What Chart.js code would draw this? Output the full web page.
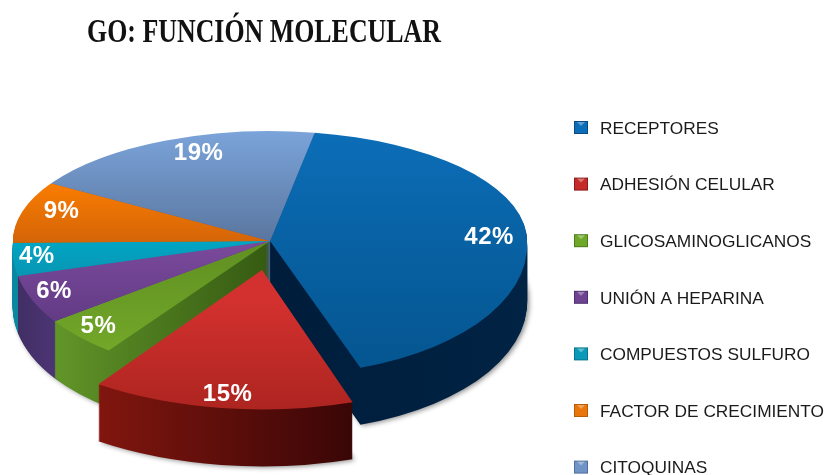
<!DOCTYPE html>
<html lang="es">
<head>
    <meta charset="UTF-8">
    <title>GO: Función Molecular</title>
    <script src="https://cdn.jsdelivr.net/npm/chart.js"></script>
    <style>
        html, body { margin: 0; padding: 0; background: #fff; overflow: hidden; }
        canvas { display: block; }
    </style>
</head>
<body>
    <canvas id="pieChart" width="825" height="475"></canvas>

    <script>
        const chartTitle = "GO: FUNCIÓN MOLECULAR";
        const categories = ["RECEPTORES", "ADHESIÓN CELULAR", "GLICOSAMINOGLICANOS", "UNIÓN A HEPARINA", "COMPUESTOS SULFURO", "FACTOR DE CRECIMIENTO", "CITOQUINAS"];
        const percentages = [42, 15, 5, 6, 4, 9, 19];

        // Pie geometry: a flat pie squashed differently above and below its centre
        const CX = 270, CY = 241, RADIUS = 257;
        const SCALE_TOP = 0.428, SCALE_BOTTOM = 0.521;
        const DEPTH = 57;
        const EXPLODE = [0, 224, 0, 0, 0, 0, 0]; // chart.js moves a slice by offset / 4

        // fake perspective on the near side
        const NEAR_SHEAR = [-0.06, 0, 0.12, 0.12, 0.12, 0, 0];
        const NEAR_WIDEN = [1, 1.07, 1, 1, 1, 1, 1];

        const canvas = document.getElementById("pieChart");
        const ctx = canvas.getContext("2d");

        function vGrad(y0, y1, a, b) {
            const g = ctx.createLinearGradient(0, y0, 0, y1);
            g.addColorStop(0, a);
            g.addColorStop(1, b);
            return g;
        }
        function hGrad(x0, x1, a, b) {
            const g = ctx.createLinearGradient(x0, 0, x1, 0);
            g.addColorStop(0, a);
            g.addColorStop(1, b);
            return g;
        }

        // top faces (gradients are in the flat, unsquashed space)
        const faceColors = [
            vGrad(CY - RADIUS, CY + RADIUS, "#0c6eb8", "#04558f"),
            vGrad(CY + 56, CY + 56 + 270, "#d3312f", "#a3211c"),
            vGrad(CY, CY + RADIUS, "#5f8f22", "#77ad2a"),
            vGrad(CY, CY + RADIUS * 0.6, "#7b4a9c", "#623b85"),
            vGrad(CY - 20, CY + 100, "#00a9c9", "#0a8fab"),
            vGrad(CY - RADIUS * 0.6, CY, "#ff8000", "#d56508"),
            vGrad(CY - RADIUS, CY, "#7ba4da", "#5a769f")
        ];
        // side walls
        const wallColors = [
            hGrad(270, 527, "#001d3b", "#012344"),
            hGrad(98, 353, "#86170f", "#3a0606"),
            hGrad(53, 270, "#64992a", "#355a12"),
            hGrad(15, 110, "#3f2d62", "#5a3c84"),
            "#0b88a1",
            "#b85c00",
            "#4b6389"
        ];
        const legendColors = ["#0c6eb8", "#c52b28", "#6fa828", "#6f4391", "#0a9ab8", "#e8760a", "#6f94c6"];
        const legendEdges = ["#0a4a80", "#8a1d1a", "#4d7d1c", "#4b2f6c", "#08758c", "#b85c08", "#4f6f9c"];

        // where each percent label sits: share of the radius, and degrees past the slice middle
        const labelRadius = [0.853, 0.94, 0.925, 0.92, 0.915, 0.855, 0.845];
        const labelTurn = [2.4, 0, 2, 2, 0.7, 3, 5];

        function drawArcAt(c, el, i, dy, fill) {
            [[SCALE_TOP, -1], [SCALE_BOTTOM, 1]].forEach(([s, side]) => {
                c.save();
                c.beginPath();
                if (side < 0) c.rect(0, -100, canvas.width, CY + dy + 100);
                else c.rect(0, CY + dy, canvas.width, canvas.height);
                c.clip();
                c.translate(0, CY + dy);
                if (side > 0) {
                    // shear and widen happen around the apex, below the centre line only
                    const px = el.x - 8;
                    c.translate(px, 0);
                    c.transform(NEAR_WIDEN[i], 0, -NEAR_SHEAR[i], 1, 0, 0);
                    c.translate(-px, 0);
                }
                c.scale(1, s);
                c.translate(0, -CY);
                const saved = el.options;
                el.options = { ...saved, backgroundColor: fill };
                el.draw(c);
                el.options = saved;
                c.restore();
            });
        }

        function drawSolid(c, els) {
            for (let d = DEPTH; d > 0; d--) {
                if (d === DEPTH) {
                    c.save();
                    c.shadowColor = "rgba(0,0,0,0.45)";
                    c.shadowBlur = 5;
                    c.shadowOffsetX = 2;
                    c.shadowOffsetY = 1;
                }
                els.forEach(({ el, i }) => drawArcAt(c, el, i, d, wallColors[i]));
                if (d === DEPTH) c.restore();
            }
            els.forEach(({ el, i }) => drawArcAt(c, el, i, 0, faceColors[i]));
        }

        const pie3d = {
            id: "pie3d",
            beforeDatasetDraw(chart, args) {
                const c = chart.ctx;
                const els = args.meta.data.map((el, i) => ({ el, i }));
                // the pulled out slice goes on top of the rest
                drawSolid(c, els.filter(e => !EXPLODE[e.i]));
                drawSolid(c, els.filter(e => EXPLODE[e.i]));
                return false;
            },
            afterDatasetsDraw(chart) {
                const c = chart.ctx;
                const meta = chart.getDatasetMeta(0);

                // percent labels, placed from the arc angles
                c.save();
                c.fillStyle = "#fff";
                c.font = "bold 24px 'Liberation Sans'";
                c.letterSpacing = "0.5px";
                c.textAlign = "center";
                c.textBaseline = "middle";
                meta.data.forEach((el, i) => {
                    const mid = (el.startAngle + el.endAngle) / 2 + labelTurn[i] * Math.PI / 180;
                    const shift = EXPLODE[i] / 4;
                    const r = el.outerRadius * labelRadius[i] + shift;
                    const x = el.x + Math.cos(mid) * r;
                    const fy = Math.sin(mid) * r;
                    const y = CY + fy * (fy < 0 ? SCALE_TOP : SCALE_BOTTOM);
                    c.fillText(percentages[i] + "%", x, y);
                });
                c.restore();

                // title, squeezed to the reference's condensed serif width
                c.save();
                c.fillStyle = "#111";
                c.font = "bold 34px 'Liberation Serif'";
                c.textBaseline = "alphabetic";
                const w = c.measureText(chartTitle).width;
                c.translate(87, 42);
                c.scale(354 / w, 1);
                c.fillText(chartTitle, 0, 0);
                c.restore();

                // legend
                c.save();
                c.font = "17.3px 'Liberation Sans'";
                c.textBaseline = "middle";
                categories.forEach((name, i) => {
                    const y = 128 + i * 56.6;
                    c.fillStyle = legendEdges[i];
                    c.fillRect(574, y - 7, 14, 13);
                    c.fillStyle = legendColors[i];
                    c.fillRect(575, y - 6, 12, 11);
                    c.fillStyle = "rgba(255,255,255,0.35)";
                    c.beginPath();
                    c.moveTo(577, y - 6);
                    c.lineTo(585, y - 6);
                    c.lineTo(581, y - 2);
                    c.fill();
                    c.fillStyle = "#1a1a1a";
                    c.fillText(name, 600, y + 1);
                });
                c.restore();
            }
        };

        new Chart(ctx, {
            type: "pie",
            data: {
                labels: categories,
                datasets: [{
                    data: percentages,
                    backgroundColor: faceColors,
                    borderWidth: 0,
                    offset: EXPLODE,
                    radius: RADIUS
                }]
            },
            options: {
                responsive: false,
                animation: false,
                rotation: 10,
                events: [],
                layout: { padding: { left: 0, right: 285, top: 7, bottom: 0 } },
                plugins: {
                    legend: { display: false },
                    title: { display: false },
                    tooltip: { enabled: false }
                }
            },
            plugins: [pie3d]
        });
    </script>
</body>
</html>
